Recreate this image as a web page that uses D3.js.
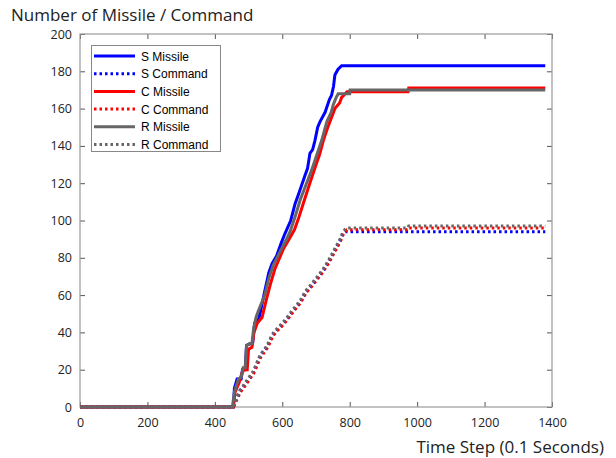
<!DOCTYPE html>
<html lang='en'>
<head>
	<meta charset='UTF-8'/>
	<title>Number of Missile / Command</title>
	<script src='https://cdn.jsdelivr.net/npm/d3@7'></script>
	<style>
		body {margin: 0; background: #fff;}
		svg {display: block;}
		.tick text {font-family: 'Open Sans', sans-serif; font-size: 12.5px; fill: #222;}
		.lbl {font-family: 'Open Sans', sans-serif; font-size: 17px; fill: #222;}
		.leg {font-family: 'Liberation Sans', Arial, sans-serif; font-size: 12px; fill: #000;}
	</style>
</head>
<body>
<div class='graph'></div>
<script>
	// series: [time step, count]
	const sMissile = [[0,0],[455,0],[458,10],[466,15],[478,15],[482,20],[490,20],[494,33],[505,34],[512,34],[518,45],[528,46],[534,50],[549,63],[560,72],[570,77],[583,81],[597,88],[608,93],[625,100],[638,109],[650,115],[667,124],[675,128],[682,136],[690,138],[697,143],[705,150],[712,153],[727,158],[740,165],[746,167],[752,172],[756,178],[765,181],[776,183],[1380,183]];
	const sCommand = [[0,0],[455,0],[462,4],[475,9],[490,12],[513,18],[535,28],[555,32],[570,38],[584,41],[600,44],[614,47],[630,51],[653,56],[668,61],[682,64],[700,68],[721,73],[735,77],[750,82],[762,86],[771,89],[780,93],[790,94],[1380,94]];
	const cMissile = [[0,0],[455,0],[460,8],[472,13],[480,18],[486,20],[496,20],[500,31],[510,32],[516,40],[526,45],[540,48],[552,57],[565,66],[578,74],[592,80],[604,85],[620,90],[636,95],[648,101],[662,109],[680,119],[702,131],[710,135],[722,143],[737,151],[756,160],[770,163],[776,166],[782,167],[792,169],[973,169],[975,171],[1380,171]];
	const cCommand = [[0,0],[456,0],[463,3],[476,8],[492,12],[515,18],[537,27],[557,32],[572,38],[586,41],[602,44],[616,47],[632,51],[655,56],[670,61],[684,64],[702,68],[723,73],[737,77],[752,82],[764,86],[773,89],[782,93],[792,95],[973,95],[975,96],[1380,96]];
	const rMissile = [[0,0],[452,0],[458,8],[470,15],[478,16],[484,21],[490,21],[494,33],[504,34],[510,34],[515,42],[522,48],[530,52],[548,60],[560,69],[573,76],[595,84],[610,89],[623,94],[638,102],[653,111],[670,119],[687,127],[702,135],[717,143],[732,153],[745,158],[751,162],[760,166],[766,168],[800,168],[801,170],[1380,170]];
	const rCommand = [[0,0],[455,0],[462,4],[475,9],[490,13],[513,19],[535,28],[555,33],[570,39],[584,42],[600,45],[614,48],[630,52],[653,57],[668,62],[682,65],[700,69],[721,74],[735,78],[750,83],[762,87],[771,90],[780,94],[790,96],[973,96],[975,97],[1380,97]];

	const seriesNames = ['S Missile', 'S Command', 'C Missile', 'C Command', 'R Missile', 'R Command'];
	const seriesData = [sMissile, sCommand, cMissile, cCommand, rMissile, rCommand];
	const xTicks = [0, 200, 400, 600, 800, 1000, 1200, 1400];
	const yTicks = [0, 20, 40, 60, 80, 100, 120, 140, 160, 180, 200];

	const colors = ['#0000ff', '#0000ff', '#ff0000', '#ff0000', '#666666', '#666666'];
	const dashed = [false, true, false, true, false, true];

	const width = 616, height = 458;
	const margin = {top: 34, right: 64, bottom: 51, left: 80};

	const svg = d3.select('.graph')
		.append('svg')
		.attr('width', width)
		.attr('height', height);

	const X_SCALE = d3.scaleLinear()
		.domain([0, 1400])
		.range([margin.left, width - margin.right]);
	const Y_SCALE = d3.scaleLinear()
		.domain([0, 200])
		.range([height - margin.bottom, margin.top]);

	const x0 = margin.left, x1 = width - margin.right;
	const y0 = height - margin.bottom, y1 = margin.top;

	// axes, ticks inward on all four sides
	function styleAxis(g) {
		g.select('.domain').remove();
		g.selectAll('.tick line').attr('stroke', '#555');
	}
	svg.append('g')
		.attr('transform', 'translate(0,' + y0 + ')')
		.call(d3.axisBottom(X_SCALE).tickValues(xTicks).tickFormat(d3.format('d')).tickSizeInner(-5).tickSizeOuter(0).tickPadding(11))
		.call(styleAxis);
	svg.append('g')
		.attr('transform', 'translate(0,' + y1 + ')')
		.call(d3.axisTop(X_SCALE).tickValues(xTicks).tickSizeInner(-5).tickSizeOuter(0).tickFormat(''))
		.call(styleAxis);
	svg.append('g')
		.attr('transform', 'translate(' + x0 + ',0)')
		.call(d3.axisLeft(Y_SCALE).tickValues(yTicks).tickSizeInner(-5).tickSizeOuter(0).tickPadding(8))
		.call(styleAxis);
	svg.append('g')
		.attr('transform', 'translate(' + x1 + ',0)')
		.call(d3.axisRight(Y_SCALE).tickValues(yTicks).tickSizeInner(-5).tickSizeOuter(0).tickFormat(''))
		.call(styleAxis);

	// box
	svg.append('rect')
		.attr('x', x0).attr('y', y1)
		.attr('width', x1 - x0).attr('height', y0 - y1)
		.attr('fill', 'none')
		.attr('stroke', '#999')
		.attr('stroke-width', 1.2);

	// lines
	const line = d3.line()
		.x(d => X_SCALE(d[0]))
		.y(d => Y_SCALE(d[1]));

	seriesData.forEach((data, i) => {
		svg.append('path')
			.datum(data)
			.attr('d', line)
			.attr('fill', 'none')
			.attr('stroke', colors[i])
			.attr('stroke-width', 3)
			.attr('stroke-dasharray', dashed[i] ? '2.5,3' : null);
	});

	// labels
	svg.append('text')
		.attr('class', 'lbl')
		.attr('x', 11)
		.attr('y', 21)
		.text('Number of Missile / Command');
	svg.append('text')
		.attr('class', 'lbl')
		.attr('x', 604)
		.attr('y', 453)
		.attr('text-anchor', 'end')
		.text('Time Step (0.1 Seconds)');

	// legend
	const lg = svg.append('g');
	lg.append('rect')
		.attr('x', 91.5).attr('y', 45.5)
		.attr('width', 129).attr('height', 106)
		.attr('fill', '#fff')
		.attr('stroke', '#888')
		.attr('stroke-width', 1);
	seriesNames.forEach((name, i) => {
		const yy = 56 + i * 17.7;
		lg.append('line')
			.attr('x1', 94).attr('x2', 135)
			.attr('y1', yy).attr('y2', yy)
			.attr('stroke', colors[i])
			.attr('stroke-width', 3)
			.attr('stroke-dasharray', dashed[i] ? '2.5,3' : null);
		lg.append('text')
			.attr('class', 'leg')
			.attr('x', 141)
			.attr('y', yy + 4.5)
			.text(name);
	});
</script>
</body>
</html>
